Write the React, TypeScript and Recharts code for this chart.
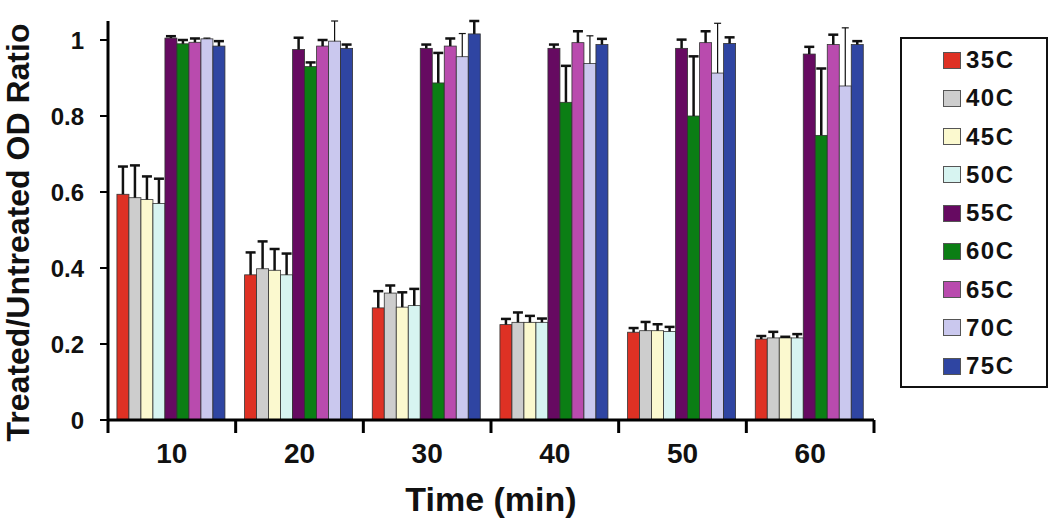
import { BarChart, Bar, XAxis, YAxis, Legend } from 'recharts'

const TIMES = ['10', '20', '30', '40', '50', '60']
const SERIES = ['35C', '40C', '45C', '50C', '55C', '60C', '65C', '70C', '75C']
const COLORS = ['#de3124', '#cdcdcd', '#fbf9cf', '#d7f4f1', '#660a61', '#0b7e14', '#b94bae', '#cac8ee', '#2f45a2']
const Y_TICKS = [0, 0.2, 0.4, 0.6, 0.8, 1]

// mean ratio per time point, one array per temperature
const V35 = [0.594, 0.382, 0.295, 0.251, 0.231, 0.213]
const V40 = [0.585, 0.398, 0.334, 0.257, 0.235, 0.216]
const V45 = [0.58, 0.394, 0.297, 0.257, 0.235, 0.216]
const V50 = [0.57, 0.382, 0.301, 0.257, 0.233, 0.216]
const V55 = [1.005, 0.975, 0.978, 0.978, 0.978, 0.963]
const V60 = [0.99, 0.93, 0.887, 0.836, 0.8, 0.749]
const V65 = [0.994, 0.984, 0.984, 0.993, 0.993, 0.988]
const V70 = [1.003, 0.997, 0.956, 0.938, 0.913, 0.879]
const V75 = [0.984, 0.978, 1.016, 0.988, 0.991, 0.988]

// upper error (only the + side is drawn)
const E35 = [0.073, 0.059, 0.044, 0.015, 0.011, 0.008]
const E40 = [0.085, 0.072, 0.02, 0.026, 0.023, 0.016]
const E45 = [0.061, 0.056, 0.039, 0.017, 0.017, 0.003]
const E50 = [0.065, 0.056, 0.044, 0.01, 0.012, 0.01]
const E55 = [0.005, 0.031, 0.01, 0.01, 0.023, 0.019]
const E60 = [0.01, 0.011, 0.079, 0.096, 0.157, 0.176]
const E65 = [0.01, 0.016, 0.02, 0.03, 0.03, 0.026]
const E70 = [0.002, 0.053, 0.061, 0.073, 0.131, 0.153]
const E75 = [0.013, 0.01, 0.034, 0.015, 0.016, 0.009]

const VALUES = [V35, V40, V45, V50, V55, V60, V65, V70, V75]
const ERRORS = [E35, E40, E45, E50, E55, E60, E65, E70, E75]

const data = TIMES.map((t, i) => {
  const row: Record<string, any> = { time: t }
  SERIES.forEach((s, k) => {
    row[s] = VALUES[k][i]
    row[`err${k}`] = ERRORS[k][i]
  })
  return row
})

const FONT = '"Liberation Sans", Arial, Helvetica, sans-serif'
const X_TICK_SIZE = 13
const X_TICK_MARGIN = 6

function BoundaryTick(props: any) {
  const { x, y, payload, index, visibleTicksCount } = props
  const half = payload?.offset ?? 0
  const y0 = y - X_TICK_SIZE - X_TICK_MARGIN
  const last = index === visibleTicksCount - 1
  return (
    <g>
      <line x1={x - half} x2={x - half} y1={y0} y2={y0 + X_TICK_SIZE} stroke="#000" strokeWidth={3} />
      {last && <line x1={x + half} x2={x + half} y1={y0} y2={y0 + X_TICK_SIZE} stroke="#000" strokeWidth={3} />}
      <text x={x} y={y} dy="0.86em" textAnchor="middle" fontSize={28} fontWeight="bold" fontFamily={FONT} fill="#111">
        {payload.value}
      </text>
    </g>
  )
}

// bar rect plus a one-sided (upward) error bar, scaled from the bar's own pixel height
function BarWithError(props: any) {
  const { x, y, width, height, fill, payload, k } = props
  const value = payload[SERIES[k]]
  const err = payload[`err${k}`]
  const px = value ? (height / value) * err : 0
  const cx = x + width / 2
  const thin = k === 7
  const cap = thin ? 3.5 : 5
  return (
    <g>
      <rect x={x} y={y} width={width} height={height} fill={fill} stroke="#333" strokeWidth={0.8} />
      {px > 0.5 && (
        <g stroke="#111" strokeWidth={thin ? 1.2 : 2.5}>
          <line x1={cx} x2={cx} y1={y} y2={y - px} />
          <line x1={cx - cap} x2={cx + cap} y1={y - px} y2={y - px} />
        </g>
      )}
    </g>
  )
}

function LegendBox() {
  return (
    <div style={{
      width: 148, height: 351, boxSizing: 'border-box', border: '2px solid #111',
      paddingTop: 2, background: '#fff', fontFamily: FONT,
    }}>
      {SERIES.map((s, k) => (
        <div key={s} style={{ height: 38.25, display: 'flex', alignItems: 'center', paddingLeft: 41 }}>
          <span style={{
            display: 'inline-block', width: 16, height: 15, background: COLORS[k],
            border: '1px solid #555', marginRight: 5,
          }} />
          <span style={{ fontSize: 24, fontWeight: 'bold', letterSpacing: 1.5, color: '#111' }}>{s}</span>
        </div>
      ))}
    </div>
  )
}

export default function App() {
  return (
    <div style={{ position: 'absolute', left: 0, top: 0, background: '#fff' }}>
      <BarChart
        width={1050}
        height={521}
        data={data}
        margin={{ top: 21, right: 176, left: 0, bottom: 0 }}
        barCategoryGap="7%"
        barGap={0}
      >
        <XAxis
          dataKey="time"
          height={101}
          tickLine={false}
          tickSize={X_TICK_SIZE}
          tickMargin={X_TICK_MARGIN}
          axisLine={{ stroke: '#000', strokeWidth: 3 }}
          tick={<BoundaryTick />}
          interval={0}
          label={{
            value: 'Time (min)', position: 'insideBottom', offset: 10,
            style: { fontSize: 34, fontWeight: 'bold', fontFamily: FONT, fill: '#111' },
          }}
        />
        <XAxis xAxisId="top" dataKey="time" orientation="top" height={0} tick={false} tickLine={false}
          axisLine={{ stroke: '#000', strokeWidth: 3 }} />
        <YAxis
          width={108}
          domain={[0, 1.05]}
          ticks={Y_TICKS}
          interval={0}
          tickSize={8}
          tickMargin={16}
          tickLine={{ stroke: '#000', strokeWidth: 2 }}
          axisLine={{ stroke: '#000', strokeWidth: 3 }}
          tick={{ fontSize: 24, fontWeight: 'bold', fontFamily: FONT, fill: '#111' }}
          label={{
            value: 'Treated/Untreated OD Ratio', angle: -90, position: 'insideLeft', offset: 18, dy: 12,
            style: { fontSize: 32, fontWeight: 'bold', fontFamily: FONT, fill: '#111', textAnchor: 'middle' },
          }}
        />
        <YAxis yAxisId="right" orientation="right" width={0} tick={false} tickLine={false}
          axisLine={{ stroke: '#000', strokeWidth: 3 }} />
        <Legend
          layout="vertical"
          align="center"
          verticalAlign="middle"
          content={() => <LegendBox />}
          wrapperStyle={{ left: 900, top: 37, width: 148, height: 351 }}
        />
        {SERIES.map((s, k) => (
          <Bar key={s} dataKey={s} name={s} fill={COLORS[k]} isAnimationActive={false}
            shape={(p: any) => <BarWithError {...p} k={k} />} />
        ))}
      </BarChart>
    </div>
  )
}
